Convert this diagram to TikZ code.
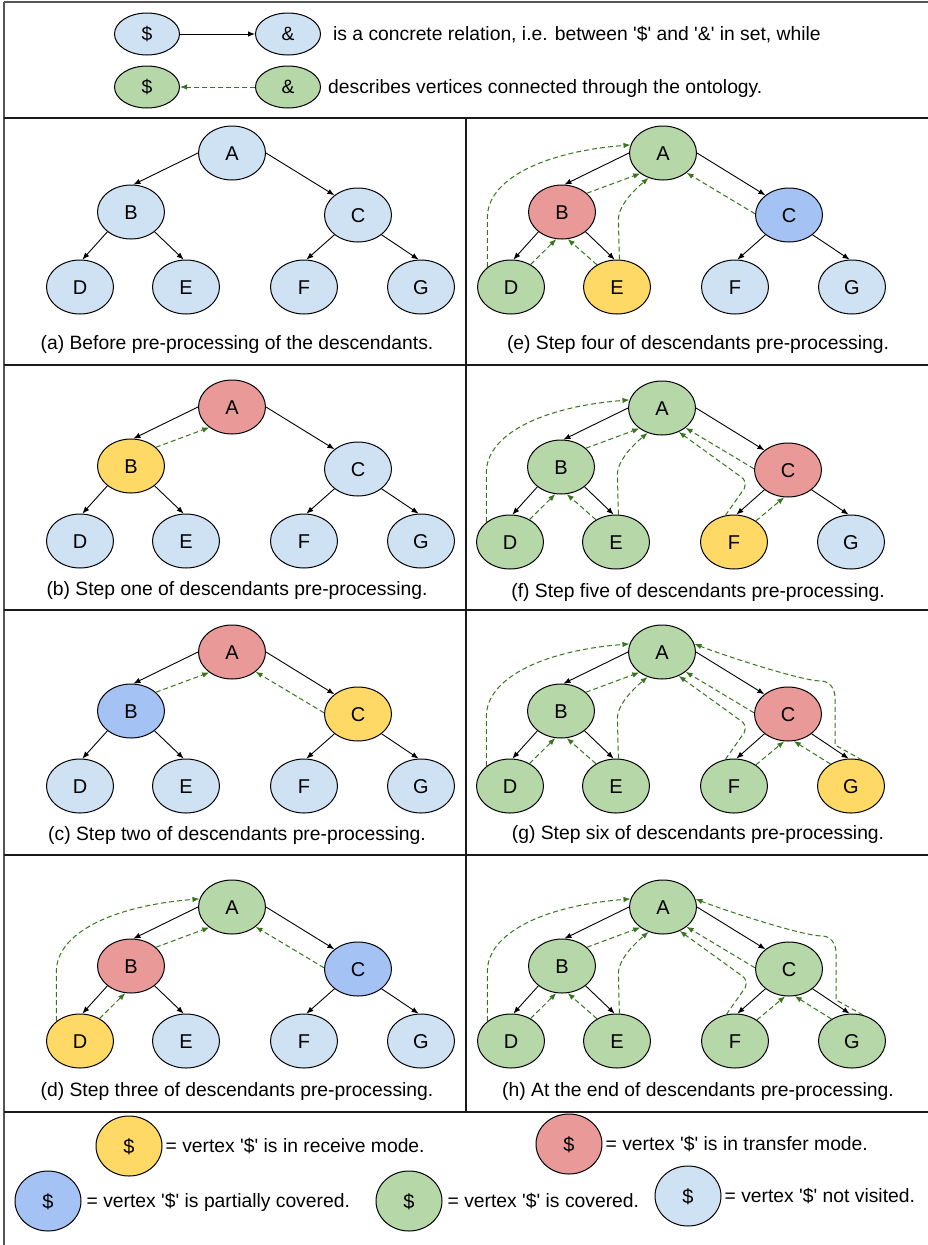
\documentclass[tikz,border=0pt]{standalone}
\usepackage{fontspec}
\setmainfont{Liberation Sans}
\usetikzlibrary{arrows.meta,shapes.geometric}

\definecolor{cnv}{HTML}{CFE2F3}
\definecolor{crd}{HTML}{EA9999}
\definecolor{cyl}{HTML}{FFD966}
\definecolor{cgr}{HTML}{B6D7A8}
\definecolor{cbl}{HTML}{A4C2F4}
\definecolor{onto}{HTML}{38761D}
\definecolor{framegray}{HTML}{555555}

\tikzset{
  vtx/.style={ellipse, draw=black, line width=1pt, inner sep=0pt,
    minimum width=67pt, minimum height=54pt,
    font=\fontsize{20}{24}\selectfont, text height=14.3pt, text depth=0pt},
  legnode/.style={vtx, minimum width=65pt, minimum height=42pt,
    font=\fontsize{19.3}{23}\selectfont, text height=13.8pt},
  keynode/.style={vtx, minimum width=66pt, minimum height=60pt,
    font=\fontsize{20}{24}\selectfont, text height=14.3pt},
  fnv/.style={fill=cnv}, frd/.style={fill=crd}, fyl/.style={fill=cyl},
  fgr/.style={fill=cgr}, fbl/.style={fill=cbl},
  rel/.style={line width=0.9pt, -{Latex[length=7pt,width=5.5pt]}},
  ontoarrow/.style={draw=onto, line width=1pt, dash pattern=on 5pt off 3pt,
    -{Latex[length=7pt,width=5.5pt]}},
  txt/.style={inner sep=0pt, font=\fontsize{19.3}{23}\selectfont,
    text height=13.8pt, text depth=0pt},
  divider/.style={line width=2pt, draw=black!90},
  outer/.style={line width=1.5pt, draw=framegray},
}

% one tree: name prefix, position of A, fills of A..G
\newcommand\btree[9]{%
  \begin{scope}[shift={#2}]
    \node[vtx,#3] (#1A) at (0,0) {A};
    \node[vtx,#4] (#1B) at (-101,59) {B};
    \node[vtx,#5] (#1C) at (126,62) {C};
    \node[vtx,#6] (#1D) at (-152,134) {D};
    \node[vtx,#7] (#1E) at (-46,134) {E};
    \node[vtx,#8] (#1F) at (72,134) {F};
    \node[vtx,#9] (#1G) at (189,134) {G};
  \end{scope}
  \draw[rel] (#1A.west) -- (#1B.85);
  \draw[rel] (#1A.east) -- (#1C.140);
  \draw[rel] (#1B.220) -- (#1D.85);
  \draw[rel] (#1B.320) -- (#1E.95);
  \draw[rel] (#1C.220) -- (#1F.85);
  \draw[rel] (#1C.320) -- (#1G.95);
}
% ontology links, child towards ancestor
\newcommand\oBA[1]{\draw[ontoarrow] (#1B.37) -- (#1A.222);}
\newcommand\oCA[1]{\draw[ontoarrow] (#1C.178) -- (#1A.320);}
\newcommand\oDB[1]{\draw[ontoarrow] (#1D.49) -- (#1B.258);}
\newcommand\oEB[1]{\draw[ontoarrow] (#1E.132) -- (#1B.282);}
\newcommand\oFC[1]{\draw[ontoarrow] (#1F.44) -- (#1C.262);}
\newcommand\oGC[1]{\draw[ontoarrow] (#1G.133) -- (#1C.282);}
\newcommand\oDA[1]{\draw[ontoarrow] (#1D.140) -- ++(0,-50)
  .. controls +(0,-37) and +(-89,7) .. (#1A.166);}
\newcommand\oEA[1]{\draw[ontoarrow] (#1E.85) -- ++(-1,-40)
  .. controls +(0,-15) and +(-12,10) .. (#1A.240);}
\newcommand\oFA[1]{\draw[ontoarrow] (#1F.108) -- ++(19,-27)
  .. controls +(1.5,-5) and +(5,3) .. ++(-4,-12) -- (#1A.305);}
\newcommand\oGA[1]{\draw[ontoarrow] (#1G.67) -- ++(-27,-15) -- ++(0,-47)
  .. controls +(0,-10) and +(8,0) .. ++(-14,-17)
  .. controls +(-20,0) and +(25,10) .. (#1A.14);}

\begin{document}
\begin{tikzpicture}[x=1pt,y=-1pt]
\useasboundingbox (0,0) rectangle (928,1245);
\fill[white] (0,0) rectangle (928,1245);
\begin{scope}
\clip (0,0) rectangle (928,1245);

% frame and panel grid
\draw[outer] (4,2) -- (940,2);
\draw[outer] (4,2) -- (4,1260);
\draw[divider] (4,117.5) -- (940,117.5);
\draw[divider] (4,365) -- (940,365);
\draw[divider] (4,610) -- (940,610);
\draw[divider] (4,855) -- (940,855);
\draw[divider] (4,1111.5) -- (940,1111.5);
\draw[divider] (466,117.5) -- (466,1111.5);

% key: kinds of links
\node[legnode,fnv] (k1s) at (147,34) {\$};
\node[legnode,fnv] (k1a) at (288,34) {\&};
\draw[rel] (k1s) -- (k1a);
\node[txt,anchor=west] (k1t) at (333,34)
  {is a concrete relation, i.e. between \textquotesingle\$\textquotesingle{} and \textquotesingle\&\textquotesingle{} in set, while};
\node[legnode,fgr] (k2s) at (147,87) {\$};
\node[legnode,fgr] (k2a) at (288,87) {\&};
\draw[ontoarrow] (k2a) -- (k2s);
\node[txt,anchor=west] (k2t) at (328,87)
  {describes vertices connected through the ontology.};

% (a)
\btree{a}{(232,153)}{fnv}{fnv}{fnv}{fnv}{fnv}{fnv}{fnv}
\node[txt] (capa) at (237,343) {(a) Before pre-processing of the descendants.};

% (b)
\btree{b}{(232,407)}{frd}{fyl}{fnv}{fnv}{fnv}{fnv}{fnv}
\oBA{b}
\node[txt] (capb) at (237,589) {(b) Step one of descendants pre-processing.};

% (c)
\btree{c}{(232,652)}{frd}{fbl}{fyl}{fnv}{fnv}{fnv}{fnv}
\oBA{c}\oCA{c}
\node[txt] (capc) at (237,834) {(c) Step two of descendants pre-processing.};

% (d)
\btree{d}{(232,907)}{fgr}{frd}{fbl}{fyl}{fnv}{fnv}{fnv}
\oBA{d}\oCA{d}\oDB{d}\oDA{d}
\node[txt] (capd) at (237,1090) {(d) Step three of descendants pre-processing.};

% (e)
\btree{e}{(663,153)}{fgr}{frd}{fbl}{fgr}{fyl}{fnv}{fnv}
\oBA{e}\oCA{e}\oDB{e}\oEB{e}\oDA{e}\oEA{e}
\node[txt] (cape) at (698,343) {(e) Step four of descendants pre-processing.};

% (f)
\btree{f}{(662,408)}{fgr}{fgr}{frd}{fgr}{fgr}{fyl}{fnv}
\oBA{f}\oCA{f}\oDB{f}\oEB{f}\oDA{f}\oEA{f}\oFC{f}\oFA{f}
\node[txt] (capf) at (698,591) {(f) Step five of descendants pre-processing.};

% (g)
\btree{g}{(662,652)}{fgr}{fgr}{frd}{fgr}{fgr}{fgr}{fyl}
\oBA{g}\oCA{g}\oDB{g}\oEB{g}\oDA{g}\oEA{g}\oFC{g}\oFA{g}\oGC{g}\oGA{g}
\node[txt] (capg) at (698,833) {(g) Step six of descendants pre-processing.};

% (h)
\btree{h}{(663,907)}{fgr}{fgr}{fgr}{fgr}{fgr}{fgr}{fgr}
\oBA{h}\oCA{h}\oDB{h}\oEB{h}\oDA{h}\oEA{h}\oFC{h}\oFA{h}\oGC{h}\oGA{h}
\node[txt] (caph) at (698,1090) {(h) At the end of descendants pre-processing.};

% key: vertex states
\node[keynode,fyl] (sy) at (129,1146) {\$};
\node[txt,anchor=west] (syt) at ([xshift=3pt]sy.east) {= vertex \textquotesingle\$\textquotesingle{} is in receive mode.};
\node[keynode,frd] (sr) at (569,1144) {\$};
\node[txt,anchor=west] (srt) at ([xshift=3pt]sr.east) {= vertex \textquotesingle\$\textquotesingle{} is in transfer mode.};
\node[keynode,fbl] (sb) at (48,1201) {\$};
\node[txt,anchor=west] (sbt) at ([xshift=5pt]sb.east) {= vertex \textquotesingle\$\textquotesingle{} is partially covered.};
\node[keynode,fgr] (sg) at (409,1201) {\$};
\node[txt,anchor=west] (sgt) at ([xshift=5pt]sg.east) {= vertex \textquotesingle\$\textquotesingle{} is covered.};
\node[keynode,fnv] (sn) at (688,1196) {\$};
\node[txt,anchor=west] (snt) at ([xshift=3pt]sn.east) {= vertex \textquotesingle\$\textquotesingle{} not visited.};
\end{scope}
\end{tikzpicture}
\end{document}
